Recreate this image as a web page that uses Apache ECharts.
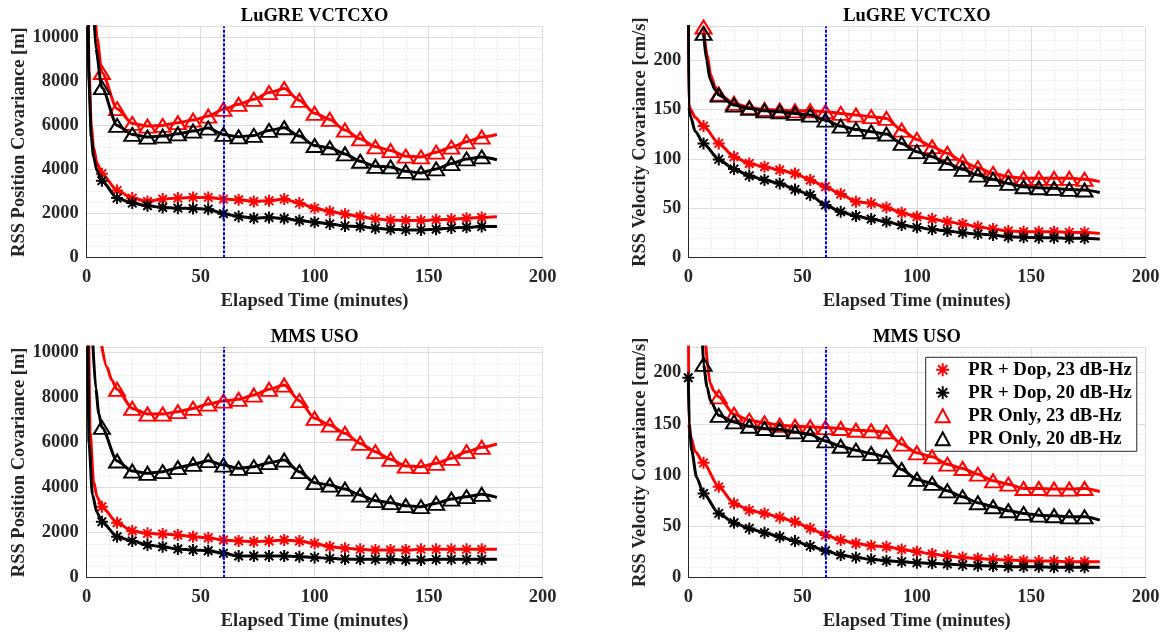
<!DOCTYPE html>
<html>
<head>
<meta charset="utf-8">
<script src="https://cdn.jsdelivr.net/npm/echarts@6/dist/echarts.min.js"></script>
<style>
html,body{margin:0;padding:0;background:#fff;}
#chart{width:1164px;height:633px;}
</style>
</head>
<body>
<div id="chart"></div>
<script>
// ---------------- DATA ----------------
const markT = [0, 6.67, 13.33, 20, 26.67, 33.33, 40, 46.67, 53.33, 60, 66.67, 73.33, 80, 86.67, 93.33, 100, 106.67, 113.33, 120, 126.67, 133.33, 140, 146.67, 153.33, 160, 166.67, 173.33];
const endT = 180;
const epochT = 60;
const xTickValues = [0, 50, 100, 150, 200];
const seriesNames = ['PR + Dop, 23 dB-Hz', 'PR + Dop, 20 dB-Hz', 'PR Only, 23 dB-Hz', 'PR Only, 20 dB-Hz'];
const panelTitles = ['LuGRE VCTCXO', 'LuGRE VCTCXO', 'MMS USO', 'MMS USO'];
const yNames = ['RSS Position Covariance [m]', 'RSS Velocity Covariance [cm/s]', 'RSS Position Covariance [m]', 'RSS Velocity Covariance [cm/s]'];
const xName = 'Elapsed Time (minutes)';
const yMax = [10500, 234, 10250, 225];
const yInterval = [2000, 50, 2000, 50];

// Top-left: LuGRE VCTCXO position
const tlPd23 = [20000, 3818, 3057, 2707, 2555, 2662, 2707, 2738, 2738, 2662, 2631, 2555, 2586, 2662, 2479, 2251, 2099, 1977, 1871, 1764, 1703, 1688, 1688, 1719, 1749, 1795, 1825];
const tlPd23Extra = [[0.5, 12000], [1, 8500], [2, 6000], [3, 5000], [4.5, 4300]];
const tlPd23End = 1856;
const tlPd20 = [20000, 3498, 2707, 2479, 2358, 2282, 2251, 2236, 2205, 1993, 1871, 1795, 1825, 1780, 1688, 1612, 1536, 1445, 1415, 1339, 1293, 1262, 1262, 1293, 1354, 1384, 1415];
const tlPd20Extra = [[0.4, 12000], [1, 8000], [2, 5500], [3, 4600], [4.5, 3950]];
const tlPd20End = 1415;
const tlPo23 = [null, 8411, 6768, 6099, 5977, 6008, 6130, 6251, 6434, 6738, 6966, 7194, 7499, 7681, 7149, 6555, 6282, 5795, 5400, 5035, 4867, 4609, 4578, 4791, 5019, 5263, 5476];
const tlPo23Extra = [[3, 12500], [4.5, 10000]];
const tlPo23End = 5597;
const tlPo20 = [null, 7727, 6008, 5597, 5476, 5522, 5628, 5749, 5886, 5597, 5491, 5552, 5780, 5901, 5522, 5095, 4989, 4715, 4380, 4152, 4122, 3924, 3848, 4031, 4274, 4487, 4578];
const tlPo20Extra = [[2.5, 12500], [4, 9500]];
const tlPo20End = 4450;

// Top-right: LuGRE VCTCXO velocity
const trPd23 = [300, 133.2, 115.7, 102.2, 95.4, 92.1, 88.7, 85.3, 78.6, 71.8, 64.4, 56.7, 55, 50.9, 45.5, 41.5, 39.1, 36.4, 34.1, 31.4, 29, 27, 26.3, 26.3, 26.3, 25.6, 25.6];
const trPd23Extra = [[0.15, 155], [1, 150], [3, 142]];
const trPd23End = 24.6;
const trPd20 = [300, 115.7, 99.5, 89.7, 83, 78.6, 75.2, 69.1, 63.4, 53.3, 46.5, 42.2, 39.1, 36.4, 33.1, 30.7, 28.7, 27, 25.3, 23.9, 22.9, 21.2, 20.6, 20.2, 20.2, 19.6, 19.6];
const trPd20Extra = [[0.2, 152], [1, 143], [3, 128]];
const trPd20End = 18.9;
const trPo23 = [null, 233.5, 165.6, 156.2, 152.1, 150.1, 149.4, 148.7, 148.7, 147.7, 146, 144.4, 142.7, 141, 129.2, 119.7, 112.3, 105.6, 97.1, 91.1, 85.3, 82, 80.3, 80.3, 80.3, 80.3, 79.3];
const trPo23Extra = [[8.2, 205], [9.8, 185], [11.8, 173]];
const trPo23End = 77;
const trPo20 = [null, 227, 164.6, 154.5, 151.1, 148.7, 147.7, 146, 144.4, 139.3, 133.2, 129.8, 127.5, 125.1, 115.7, 107.3, 102.2, 95.4, 89.4, 83.6, 79.3, 75.2, 71.8, 70.8, 70.2, 69.1, 68.5];
const trPo20Extra = [[8, 200], [9.5, 181], [11.7, 170]];
const trPo20End = 66;

// Bottom-left: MMS USO position
const blPd23 = [20000, 3155, 2444, 2073, 1970, 1940, 1896, 1822, 1777, 1674, 1629, 1600, 1629, 1674, 1629, 1525, 1377, 1303, 1259, 1229, 1229, 1229, 1259, 1259, 1259, 1259, 1259];
const blPd23Extra = [[0.5, 13000], [1.5, 6500], [3, 4300], [4.5, 3600]];
const blPd23End = 1259;
const blPd20 = [20000, 2488, 1822, 1629, 1451, 1377, 1274, 1229, 1200, 1081, 963, 963, 963, 963, 933, 903, 859, 829, 815, 815, 815, 785, 785, 815, 815, 815, 815];
const blPd20Extra = [[0.3, 12000], [1, 6000], [2.5, 3700], [4.5, 2900]];
const blPd20End = 815;
const blPo23 = [null, null, 8368, 7523, 7272, 7272, 7375, 7523, 7716, 7849, 7923, 8116, 8368, 8560, 7864, 7079, 6783, 6413, 5968, 5598, 5258, 4961, 4932, 5080, 5302, 5598, 5791];
const blPo23Extra = [[6.6, 10300], [8.8, 9375], [11, 8782]];
const blPo23End = 5939;
const blPo20 = [null, 6679, 5184, 4739, 4636, 4710, 4887, 5035, 5198, 5006, 4858, 4932, 5110, 5228, 4710, 4221, 4117, 3939, 3673, 3421, 3332, 3199, 3155, 3303, 3495, 3599, 3703];
const blPo20Extra = [[2.5, 10800], [4, 8400], [5.3, 7300]];
const blPo20End = 3569;

// Bottom-right: MMS USO velocity
const brPd23 = [300, 112, 88.6, 72.4, 65.9, 62.7, 58.8, 54.5, 48.1, 41.6, 36.7, 33.4, 31.2, 30.2, 27.6, 25.3, 23.1, 21.1, 19.8, 18.8, 17.9, 17.2, 16.6, 16.2, 16.2, 15.6, 15.6];
const brPd23Extra = [[0.15, 150], [1, 138], [3, 123]];
const brPd23End = 15.6;
const brPd20 = [195, 82.1, 62.7, 53.6, 48.1, 43.8, 39.9, 35.7, 30.8, 26.3, 22.1, 19.8, 17.9, 16.6, 15.6, 14.6, 14, 13.3, 12.3, 11.7, 11.4, 10.7, 10.7, 10.7, 10.1, 10.1, 10.1];
const brPd20Extra = [[0.4, 150], [1.5, 124], [3.6, 98]];
const brPd20End = 10.1;
const brPo23 = [null, null, 176.3, 159.4, 153.6, 151, 148.7, 147.7, 147.1, 146.4, 145.5, 143.8, 143.2, 142.2, 130.2, 121.8, 117.9, 110.7, 106.5, 101, 94.5, 91.2, 87, 87, 86.4, 86.4, 87];
const brPo23Extra = [[7.6, 228], [9.5, 190], [11.2, 182]];
const brPo23End = 84;
const brPo20 = [null, 208, 158.4, 151.9, 147.7, 145.5, 144.5, 142.2, 139.6, 133.4, 128.2, 124.4, 121.1, 117.9, 105.5, 95.8, 91.9, 84.7, 78.9, 73.1, 69.2, 65.3, 62.7, 61, 60.4, 59.4, 59.4];
const brPo20Extra = [[6.2, 230], [8.2, 186], [9.8, 172]];
const brPo20End = 56.2;

// ---------------- BUILD ----------------
const panels = [
  [[tlPd23, tlPd23Extra, tlPd23End], [tlPd20, tlPd20Extra, tlPd20End], [tlPo23, tlPo23Extra, tlPo23End], [tlPo20, tlPo20Extra, tlPo20End]],
  [[trPd23, trPd23Extra, trPd23End], [trPd20, trPd20Extra, trPd20End], [trPo23, trPo23Extra, trPo23End], [trPo20, trPo20Extra, trPo20End]],
  [[blPd23, blPd23Extra, blPd23End], [blPd20, blPd20Extra, blPd20End], [blPo23, blPo23Extra, blPo23End], [blPo20, blPo20Extra, blPo20End]],
  [[brPd23, brPd23Extra, brPd23End], [brPd20, brPd20Extra, brPd20End], [brPo23, brPo23Extra, brPo23End], [brPo20, brPo20Extra, brPo20End]]
];

function buildData(vals, extra, endV) {
  const pts = [];
  markT.forEach((t, i) => { if (vals[i] !== null && vals[i] !== undefined) pts.push({ value: [t, vals[i]] }); });
  extra.forEach(p => pts.push({ value: [p[0], p[1]], symbol: 'none' }));
  pts.push({ value: [endT, endV], symbol: 'none' });
  pts.sort((a, b) => a.value[0] - b.value[0]);
  return pts;
}

const ASTER = 'path://M12,0L12,24M0,12L24,12M3.5,3.5L20.5,20.5M3.5,20.5L20.5,3.5';
const RED = '#ff0000', BLK = '#000000';
const styles = [
  { color: RED, symbol: ASTER, size: 12, fill: RED },
  { color: BLK, symbol: ASTER, size: 12, fill: BLK },
  { color: RED, symbol: 'triangle', size: [16, 13], fill: 'rgba(0,0,0,0)' },
  { color: BLK, symbol: 'triangle', size: [16, 13], fill: 'rgba(0,0,0,0)' }
];

const FONT = "'Liberation Serif', 'Times New Roman', serif";
const FS = 18.5;
const TXT = '#262626';

const grids = [
  { left: 86.7, top: 26.5, width: 455.8, height: 231.2 },
  { left: 688.3, top: 26.5, width: 457.2, height: 231.2 },
  { left: 86.7, top: 347, width: 455.8, height: 230.7 },
  { left: 688.3, top: 347, width: 457.2, height: 230.7 }
];
const yNameGap = [57, 37, 57, 37];
const yLabelMargin = [8, 7, 8, 7];

const xAxes = grids.map((g, i) => ({
  type: 'value', gridIndex: i, min: xTickValues[0], max: xTickValues[xTickValues.length - 1], interval: 50,
  name: xName, nameLocation: 'middle', nameGap: 34,
  nameTextStyle: { fontFamily: FONT, fontWeight: 'bold', fontSize: FS, color: TXT },
  axisLine: { show: true, onZero: false, lineStyle: { color: TXT, width: 1 } },
  axisTick: { show: false },
  axisLabel: { fontFamily: FONT, fontWeight: 'bold', fontSize: FS, color: TXT, margin: 10, formatter: v => String(v) },
  splitLine: { show: true, lineStyle: { color: '#dcdcdc', width: 1 } },
  minorTick: { show: false, splitNumber: 5 },
  minorSplitLine: { show: true, lineStyle: { color: '#e6e6e6', width: 1, type: [2, 2] } }
}));
const yAxes = grids.map((g, i) => ({
  type: 'value', gridIndex: i, min: 0, max: yMax[i], interval: yInterval[i],
  name: yNames[i], nameLocation: 'middle', nameGap: yNameGap[i], nameRotate: 90,
  nameTextStyle: { fontFamily: FONT, fontWeight: 'bold', fontSize: FS, color: TXT },
  axisLine: { show: true, onZero: false, lineStyle: { color: TXT, width: 1 } },
  axisTick: { show: false },
  axisLabel: { fontFamily: FONT, fontWeight: 'bold', fontSize: FS, color: TXT, margin: yLabelMargin[i], showMaxLabel: false, formatter: v => String(v) },
  splitLine: { show: true, lineStyle: { color: '#dcdcdc', width: 1 } },
  minorTick: { show: false, splitNumber: (yInterval[i] === 2000 ? 4 : 5) },
  minorSplitLine: { show: true, lineStyle: { color: '#e6e6e6', width: 1, type: [2, 2] } }
}));

const series = [];
panels.forEach((panel, gi) => {
  panel.forEach((s, si) => {
    const st = styles[si];
    const ser = {
      name: seriesNames[si], type: 'line', xAxisIndex: gi, yAxisIndex: gi,
      data: buildData(s[0], s[1], s[2]),
      smooth: 0.25, smoothMonotone: 'x',
      symbol: st.symbol, symbolSize: st.size, symbolKeepAspect: true,
      lineStyle: { color: st.color, width: 3 },
      itemStyle: { color: st.fill, borderColor: st.color, borderWidth: 2 },
      emphasis: { disabled: true },
      clip: true, z: 2 + si
    };
    if (si === 3) {
      ser.markLine = {
        silent: true, symbol: 'none', animation: false,
        label: { show: false },
        lineStyle: { color: '#0000ff', type: [3, 1.5], width: 2 },
        data: [{ xAxis: epochT }]
      };
    }
    series.push(ser);
  });
});

const titles = grids.map((g, i) => ({
  text: panelTitles[i], left: g.left + g.width / 2, textAlign: 'center',
  top: i < 2 ? 6.5 : 327.5, padding: 0,
  textStyle: { fontFamily: FONT, fontWeight: 'bold', fontSize: FS, color: '#000' }
}));

const option = {
  animation: false,
  backgroundColor: '#fff',
  title: titles,
  grid: grids,
  xAxis: xAxes,
  yAxis: yAxes,
  legend: {
    orient: 'vertical', left: 925.7, top: 357.3,
    padding: [3, 5, 3, 9], itemGap: 4, itemWidth: 14, itemHeight: 13,
    backgroundColor: '#fff', borderColor: TXT, borderWidth: 1, borderRadius: 0,
    selectedMode: false,
    textStyle: { fontFamily: FONT, fontWeight: 'bold', fontSize: 18.8, color: '#000', lineHeight: 18, padding: [0, 0, 0, 13.5] },
    data: seriesNames.map((n, i) => ({
      name: n, icon: styles[i].symbol,
      itemStyle: { color: styles[i].fill, borderColor: styles[i].color, borderWidth: 2 }
    }))
  },
  series: series
};

const chart = echarts.init(document.getElementById('chart'), null, { renderer: 'canvas' });
chart.setOption(option);
</script>
</body>
</html>
